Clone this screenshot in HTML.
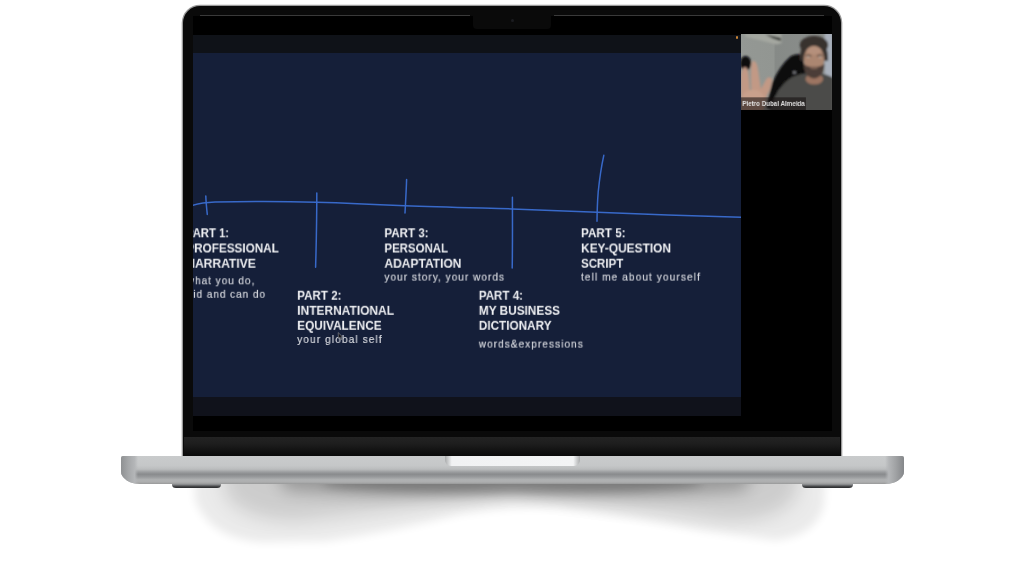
<!DOCTYPE html>
<html lang="en">
<head>
<meta charset="utf-8">
<title>Presentation mockup</title>
<style>
  html, body { margin: 0; padding: 0; }
  body { width: 1024px; height: 576px; overflow: hidden; background: #fff; position: relative;
         font-family: "Liberation Sans", sans-serif; }
  .abs { position: absolute; }
  #stage { position: absolute; left: 0; top: 0; width: 1024px; height: 576px; overflow: hidden; }

  /* ---------- shadow under laptop ---------- */
  #shadow { left: 0; top: 0; width: 1024px; height: 576px; }

  /* ---------- laptop lid ---------- */
  #lid { left: 182.8px; top: 5.9px; width: 658.2px; height: 450.1px; background: #0a0a0a;
         border-radius: 17px 17px 0 0; box-shadow: 0 0 0 1.3px #9b9b9b; }
  #screen { left: 193px; top: 16px; width: 639px; height: 415px; background: #000; overflow: hidden; }
  #notch { left: 473px; top: 6px; width: 78px; height: 22.5px; background: #0a0a0a; border-radius: 0 0 4px 4px; }
  #cam { left: 510.5px; top: 18.5px; width: 3px; height: 3px; border-radius: 50%; background: #1b1c20; }
  #hl1 { left: 200px; top: 15px; width: 270px; height: 1px; background: #3a3a3a; }
  #hl2 { left: 554px; top: 15px; width: 270px; height: 1px; background: #3a3a3a; }
  #hinge { left: 184.4px; top: 437px; width: 655.4px; height: 19px;
           background: linear-gradient(#232323 0, #1e1e1e 35%, #161616 60%, #0a0a0a 100%); }

  /* screen content (coordinates relative to page) */
  #topbar { left: 193px; top: 34.5px; width: 548px; height: 18.5px; background: #0f1218; }
  #slide { left: 193px; top: 53px; width: 548px; height: 343.5px; background: #151f39; overflow: hidden; }
  #botbar { left: 193px; top: 396.5px; width: 548px; height: 19.5px; background: #10121b; }
  #dot { left: 736.1px; top: 36.4px; width: 2.4px; height: 2.4px; border-radius: 50%; background: #c98436; }

  /* ---------- laptop base ---------- */
  #base { left: 120.6px; top: 455.6px; width: 783.2px; height: 28.8px;
          border-radius: 2px 2px 19px 19px / 2px 2px 13px 13px;
          background: linear-gradient(#c9cbcc 0, #c5c7c8 34%, #bbbdbe 47%, #9c9ea0 57%, #898b8d 65%, #97999b 74%, #b0b2b3 85%, #adaeaf 93%, #989999 100%); overflow: hidden; }
  #capL { left: 0; top: 0; width: 17px; height: 100%;
          background: linear-gradient(90deg, #8f9193 0, #a6a8aa 45%, #b4b6b8 80%, rgba(180,182,184,0) 100%); }
  #capR { right: 0; top: 0; width: 19px; height: 100%;
          background: linear-gradient(270deg, #85878a 0, #a1a3a5 45%, #b4b6b8 80%, rgba(180,182,184,0) 100%); }
  #lip { left: 444.5px; top: 455.6px; width: 135px; height: 10.4px; border-radius: 0 0 6px 6px;
         background: linear-gradient(90deg, #a9abac 0, #f1f2f3 5%, #f3f4f5 95%, #a9abac 100%); }
  .foot { top: 484.2px; height: 3.8px; background: linear-gradient(#9a9c9e 0, #3a3b3d 70%, #2a2b2d 100%);
          border-radius: 0 0 4px 4px / 0 0 3.5px 3.5px; }

  #name { left: 742px; top: 98px; font-weight: bold; font-size: 7.7px; line-height: 10px; color: #e2e2e2;
          white-space: nowrap; transform-origin: 0 0; will-change: transform; transform: translate(0.3px,0.9px) scaleX(0.81); }

  /* ---------- slide text ---------- */
  .h { position: absolute; font-weight: bold; font-size: 13.4px; line-height: 16px; color: #eff0f3;
       white-space: nowrap; transform-origin: 0 0; will-change: transform; }
  .s { position: absolute; font-size: 11.2px; line-height: 14px; color: #d6d8de;
       white-space: nowrap; transform-origin: 0 0; will-change: transform; -webkit-text-stroke: 0.2px #d6d8de; }
</style>
</head>
<body>
<div id="stage">

<!-- SHADOW -->
<svg id="shadow" class="abs" viewBox="0 0 1024 576" width="1024" height="576">
  <defs>
    <filter id="b1" x="-20%" y="-60%" width="140%" height="220%"><feGaussianBlur stdDeviation="5"/></filter>
    <filter id="b2" x="-20%" y="-60%" width="140%" height="220%"><feGaussianBlur stdDeviation="9"/></filter>
    <filter id="b3" x="-20%" y="-60%" width="140%" height="220%"><feGaussianBlur stdDeviation="8"/></filter>
    <clipPath id="below"><rect x="0" y="480" width="1024" height="96"/></clipPath>
  </defs>
  <g clip-path="url(#below)">
    <path filter="url(#b1)" fill="#000" opacity=".08"
      d="M194 455 L195 500 Q210 539 262 542 L325 541 Q395 531 460 514 Q512 505 560 508 Q630 516 700 530 L775 540 Q816 536 824 505 L826 455 Z"/>
    <path filter="url(#b2)" fill="#000" opacity=".12"
      d="M222 455 L226 496 Q246 521 300 520 Q400 508 512 494 Q630 508 726 520 Q778 521 796 496 L800 455 Z"/>
    <path filter="url(#b3)" fill="#000" opacity=".25"
      d="M270 455 L285 490 Q400 500 512 492 Q630 500 745 490 L760 455 Z"/>
    <ellipse filter="url(#b1)" cx="512" cy="483" rx="190" ry="11" fill="#000" opacity=".2"/>
  </g>
</svg>

<!-- LID -->
<div id="lid" class="abs"></div>
<div id="screen" class="abs"></div>
<div id="notch" class="abs"></div>
<div id="cam" class="abs"></div>
<div id="hl1" class="abs"></div>
<div id="hl2" class="abs"></div>
<div id="hinge" class="abs"></div>

<!-- SCREEN CONTENT -->
<div id="topbar" class="abs"></div>
<div id="botbar" class="abs"></div>
<div id="slide" class="abs">
<!--SLIDE-->
<svg class="abs" style="left:0;top:0" width="548" height="344" viewBox="193 53 548 344" fill="none" stroke="#3869c9" stroke-width="1.5" stroke-linecap="round" stroke-linejoin="round">
  <path d="M192 205.6 C198 203.6 204 202.4 215 202 C250 201.2 290 201.4 316 202.2 C345 203 375 204.3 405 205.8 C440 207.2 480 208 512 208.9 C545 210 575 211.5 597 212.3 C640 214 700 216 742 217.4"/>
  <path d="M205.8 196 C206 202 206.6 208 207.3 214.4"/>
  <path d="M316.8 193 C316.8 215 316.4 240 315.6 267.3"/>
  <path d="M406.6 179.6 C406.3 190 405.6 202 405 213"/>
  <path d="M512.4 197.2 C512.5 220 512.6 245 512.2 268"/>
  <path d="M603.8 155.3 C601 168 599.4 180 598.2 192 C597.4 202 597.1 212 597 221.3"/>
</svg>
<svg class="abs" style="left:0;top:0;z-index:5" width="548" height="344" viewBox="193 53 548 344"><path id="cursor" d="M338.2 332.6 L338.4 338.7 L339.8 337.5 L341 339.8 L341.9 339.3 L340.8 337.1 L342.5 336.9 Z" fill="#15151a" stroke="#9a9da6" stroke-width=".55" stroke-linejoin="round"/></svg>

<div class="h" style="left:-7px;top:172px;transform:translate(0.00px,0.30px) scaleX(0.8435)">PART 1:</div>
<div class="h" style="left:-7px;top:187px;transform:translate(0.30px,0.50px) scaleX(0.8755)">PROFESSIONAL</div>
<div class="h" style="left:-7px;top:202px;transform:translate(0.30px,0.70px) scaleX(0.9005)">NARRATIVE</div>
<div class="h" style="left:104px;top:234px;transform:translate(0.20px,0.70px) scaleX(0.8670)">PART 2:</div>
<div class="h" style="left:104px;top:249px;transform:translate(0.20px,0.80px) scaleX(0.8933)">INTERNATIONAL</div>
<div class="h" style="left:104px;top:264px;transform:translate(0.20px,0.80px) scaleX(0.8816)">EQUIVALENCE</div>
<div class="h" style="left:191px;top:172px;transform:translate(0.40px,0.30px) scaleX(0.8651)">PART 3:</div>
<div class="h" style="left:191px;top:187px;transform:translate(0.40px,0.50px) scaleX(0.8548)">PERSONAL</div>
<div class="h" style="left:191px;top:202px;transform:translate(0.40px,0.70px) scaleX(0.8975)">ADAPTATION</div>
<div class="h" style="left:285px;top:234px;transform:translate(0.80px,0.70px) scaleX(0.8661)">PART 4:</div>
<div class="h" style="left:285px;top:249px;transform:translate(0.80px,0.80px) scaleX(0.8829)">MY BUSINESS</div>
<div class="h" style="left:285px;top:264px;transform:translate(0.80px,0.80px) scaleX(0.8771)">DICTIONARY</div>
<div class="h" style="left:388px;top:172px;transform:translate(0.00px,0.30px) scaleX(0.8729)">PART 5:</div>
<div class="h" style="left:388px;top:187px;transform:translate(0.00px,0.50px) scaleX(0.8893)">KEY-QUESTION</div>
<div class="h" style="left:388px;top:202px;transform:translate(0.00px,0.70px) scaleX(0.8613)">SCRIPT</div>
<div class="s" style="left:-7px;top:220px;letter-spacing:1.050px;transform:translate(0.80px,0.30px) scaleX(0.9)">what you do,</div>
<div class="s" style="left:-7px;top:233px;letter-spacing:1.037px;transform:translate(0.80px,0.80px) scaleX(0.9)">did and can do</div>
<div class="s" style="left:104px;top:279px;letter-spacing:1.235px;transform:translate(0.20px,0.00px) scaleX(0.9)">your global self</div>
<div class="s" style="left:191px;top:216px;letter-spacing:1.127px;transform:translate(0.40px,0.60px) scaleX(0.9)">your story, your words</div>
<div class="s" style="left:285px;top:283px;letter-spacing:1.155px;transform:translate(0.80px,0.60px) scaleX(0.9)">words&amp;expressions</div>
<div class="s" style="left:388px;top:216px;letter-spacing:1.222px;transform:translate(0.00px,0.60px) scaleX(0.9)">tell me about yourself</div>
<!--/SLIDE-->
</div>
<div id="dot" class="abs"></div>
<!--WEBCAM-->
<svg class="abs" style="left:740.7px;top:34.1px" width="90.9" height="76.3" viewBox="70 40 595 500" preserveAspectRatio="none">
  <defs>
    <filter id="wb" x="-10%" y="-10%" width="120%" height="120%"><feGaussianBlur stdDeviation="6"/></filter>
    <filter id="wb2" x="-10%" y="-10%" width="120%" height="120%"><feGaussianBlur stdDeviation="4"/></filter>
    <clipPath id="wc"><rect x="70" y="40" width="595" height="500"/></clipPath>
    <linearGradient id="wall" x1="0" x2="1" y1="0" y2="0">
      <stop offset="0" stop-color="#949894"/><stop offset=".36" stop-color="#929692"/>
      <stop offset=".38" stop-color="#868a87"/><stop offset="1" stop-color="#8b8e8c"/>
    </linearGradient>
  </defs>
  <g clip-path="url(#wc)">
    <rect x="70" y="40" width="595" height="500" fill="url(#wall)"/>
    <g filter="url(#wb)">
      <!-- window strip right -->
      <rect x="618" y="30" width="70" height="300" fill="#a9b0bb"/>
      <!-- AC unit / shelf -->
      <path d="M95 40 L335 40 L335 100 L300 108 L100 58 Z" fill="#a4a7a0"/>
      <path d="M230 44 L330 66 L330 86 L280 70 Z" fill="#2c2d2a"/>
      <!-- chair -->
      <path d="M235 520 L275 360 Q320 250 395 185 Q435 165 470 178 L495 300 L400 335 L315 410 L275 540 Z" fill="#08080d"/>
      <ellipse cx="420" cy="292" rx="10" ry="8" fill="#8a8c90"/>
      <!-- shirt -->
      <path d="M255 560 Q290 400 400 325 Q470 292 520 300 L600 300 Q650 310 680 330 L680 560 Z" fill="#4b4c48"/>
      <!-- neck -->
      <ellipse cx="550" cy="335" rx="58" ry="36" fill="#9c7562"/>
      <!-- hair -->
      <ellipse cx="548" cy="112" rx="93" ry="60" fill="#38332f"/>
      <path d="M457 215 Q448 90 548 70 Q645 90 640 215 L615 215 Q600 130 548 128 Q495 130 480 215 Z" fill="#38332f"/>
      <!-- face -->
      <ellipse cx="548" cy="205" rx="66" ry="88" fill="#ab8671"/>
      <ellipse cx="548" cy="150" rx="50" ry="26" fill="#b5907b"/>
      <!-- eyes -->
      <ellipse cx="512" cy="182" rx="20" ry="8" fill="#6d5548"/>
      <ellipse cx="586" cy="182" rx="20" ry="8" fill="#6d5548"/>
      <ellipse cx="510" cy="190" rx="10" ry="5" fill="#cfc0b4"/>
      <ellipse cx="588" cy="190" rx="10" ry="5" fill="#cfc0b4"/>
      <!-- beard -->
      <path d="M480 235 Q482 322 548 332 Q614 322 616 235 Q592 258 548 256 Q504 258 480 235 Z" fill="#4b3e37"/>
      <ellipse cx="548" cy="262" rx="24" ry="9" fill="#7a5f52"/>
      <!-- dark object left -->
      <ellipse cx="100" cy="232" rx="36" ry="48" fill="#07070a"/>
      <!-- hand -->
      <path d="M70 310 Q78 255 98 256 Q118 260 122 340 L128 410 L138 410 Q128 225 150 216 Q174 214 184 290 L200 400 Q222 360 240 328 Q262 316 273 336 Q266 400 238 445 L215 560 L70 560 Z" fill="#c29985"/>
      <ellipse cx="148" cy="455" rx="72" ry="50" fill="#c8a08c"/>
    </g>
    <!-- name label -->
    <rect x="70" y="455" width="425" height="85" fill="#15100f" opacity=".58"/>
  </g>
</svg>
<div id="name" class="abs">Pietro Dubal Almeida</div>

<!--/WEBCAM-->

<!-- BASE -->
<div class="abs foot" style="left:172px;width:48.6px"></div>
<div class="abs foot" style="left:802px;width:50.5px"></div>
<div id="base" class="abs"><div id="capL" class="abs"></div><div id="capR" class="abs"></div></div>
<div id="lip" class="abs"></div>

</div>
</body>
</html>
